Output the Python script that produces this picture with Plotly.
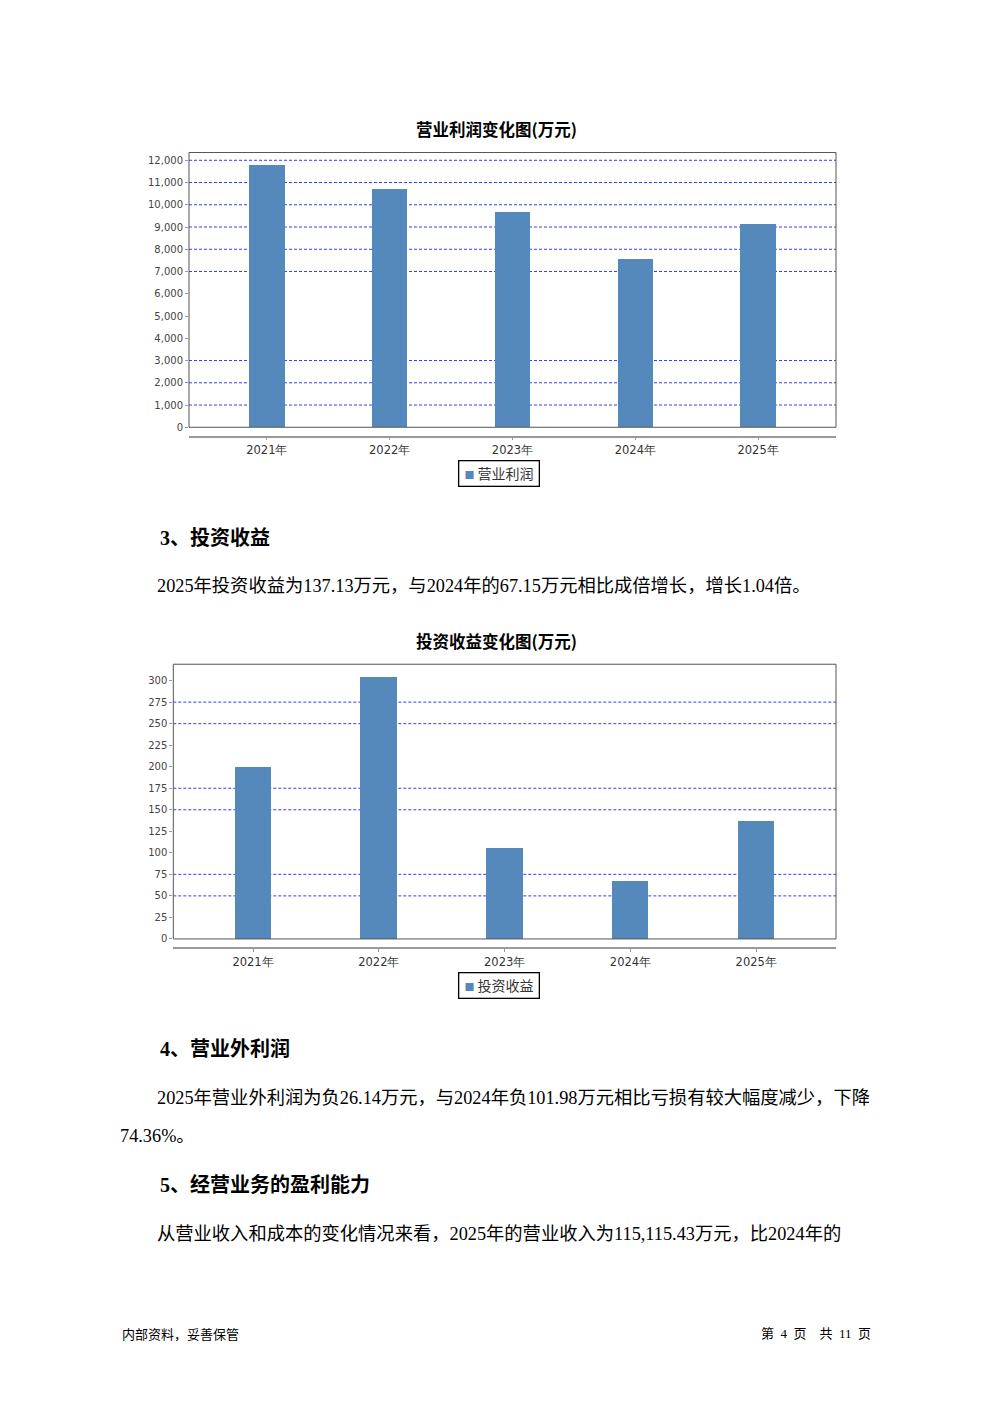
import plotly.graph_objects as go

W, H = 992, 1403
YK = 1.0035  # small vertical calibration

def px(x):
    return x / W

def py(y):
    return 1 - y * YK / H

# ---- data ----
years = ["2021年", "2022年", "2023年", "2024年", "2025年"]
op_profit = [11744, 10665, 9663, 7551, 9092]          # 营业利润 (万元)
inv_income = [199.8, 304.3, 105.7, 67.15, 137.13]     # 投资收益 (万元)
op_ticks = list(range(0, 12001, 1000))
inv_ticks = list(range(0, 301, 25))
op_grid = [1000, 2000, 3000, 7000, 8000, 9000, 10000, 11000, 12000]
inv_grid = [50, 75, 150, 175, 250, 275]

BAR = "#5588bb"
GRID = "#3a3aff"
CJK = "Noto Sans CJK SC"
BODY = "Liberation Serif, Noto Sans CJK SC"
TICKF = "DejaVu Sans"

fig = go.Figure()
fig.add_bar(x=years, y=op_profit, xaxis="x", yaxis="y", width=0.29,
            marker=dict(color=BAR, line=dict(width=0)), showlegend=False)
fig.add_bar(x=years, y=inv_income, xaxis="x2", yaxis="y2", width=0.29,
            marker=dict(color=BAR, line=dict(width=0)), showlegend=False)

xcommon = dict(type="category", range=[-0.634, 4.634], showgrid=False,
               showline=True, linecolor="#999999", linewidth=1.5,
               ticks="outside", ticklen=3, tickcolor="#999999",
               tickfont=dict(family=TICKF, size=11.5, color="#333333"),
               anchor="free", fixedrange=True)
ycommon = dict(showgrid=False, zeroline=False, showline=False,
               ticks="outside", ticklen=3, tickcolor="#999999",
               tickfont=dict(family=TICKF, size=10, color="#444444"),
               fixedrange=True)

fig.update_layout(
    width=W, height=H, margin=dict(l=0, r=0, t=0, b=0),
    paper_bgcolor="white", plot_bgcolor="white",
    bargap=0,
    xaxis=dict(domain=[px(189), px(836)], position=py(436.7), **xcommon),
    yaxis=dict(domain=[py(427.3), py(152.5)], anchor="x", range=[0, 12350],
               tickvals=op_ticks, tickformat=",", **ycommon),
    xaxis2=dict(domain=[px(173.3), px(836)], position=py(948.3), **xcommon),
    yaxis2=dict(domain=[py(939), py(664.3)], anchor="x2", range=[0, 319],
                tickvals=inv_ticks, **ycommon),
)

shapes = []
for v in op_grid:
    shapes.append(dict(type="line", xref="x domain", yref="y", x0=0, x1=1, y0=v, y1=v,
                       line=dict(color=GRID, width=1, dash="3px,2px"), layer="below"))
for v in inv_grid:
    shapes.append(dict(type="line", xref="x2 domain", yref="y2", x0=0, x1=1, y0=v, y1=v,
                       line=dict(color=GRID, width=1, dash="3px,2px"), layer="below"))
for xr, yr in (("x domain", "y domain"), ("x2 domain", "y2 domain")):
    shapes.append(dict(type="rect", xref=xr, yref=yr, x0=0, x1=1, y0=0, y1=1,
                       line=dict(color="#555555", width=1), layer="above"))
fig.update_layout(shapes=shapes)

ann = []

def text(x, y, s, size, family=BODY, bold=False, xanchor="left", color="#000000"):
    if bold:
        s = "<b>" + s + "</b>"
    ann.append(dict(x=px(x), y=py(y), xref="paper", yref="paper", text=s, showarrow=False,
                    xanchor=xanchor, yanchor="middle",
                    font=dict(family=family, size=size, color=color)))

# chart titles
text(496, 129, "营业利润变化图(万元)", 16.5, family=CJK, bold=True, xanchor="center")
text(496, 641, "投资收益变化图(万元)", 16.5, family=CJK, bold=True, xanchor="center")

# legends
for y, name in ((474, "营业利润"), (986, "投资收益")):
    ann.append(dict(x=px(498.7), y=py(y), xref="paper", yref="paper",
                    text='&nbsp;<span style="color:%s;font-size:10px">■</span> %s&nbsp;' % (BAR, name),
                    showarrow=False, xanchor="center", yanchor="middle",
                    bordercolor="#000000", borderwidth=1.3, borderpad=2, bgcolor="white",
                    font=dict(family=CJK, size=14, color="#333333")))

# headings and body text
text(158, 538, "3、投资收益", 20, bold=True)
text(155, 586, "2025年投资收益为137.13万元，与2024年的67.15万元相比成倍增长，增长1.04倍。", 18.3)
text(158, 1049, "4、营业外利润", 20, bold=True)
text(155, 1098, "2025年营业外利润为负26.14万元，与2024年负101.98万元相比亏损有较大幅度减少，下降", 18.3)
text(118, 1136, "74.36%。", 18.3)
text(158, 1185, "5、经营业务的盈利能力", 20, bold=True)
text(155, 1234, "从营业收入和成本的变化情况来看，2025年的营业收入为115,115.43万元，比2024年的", 18.3)

# footer
text(119.5, 1334, "内部资料，妥善保管", 13, family=CJK)
text(873, 1334, "第  4  页    共  11  页", 13, family=BODY, xanchor="right")

fig.update_layout(annotations=ann)

post = ("document.documentElement.style.margin='0';document.body.style.margin='0';"
        "document.documentElement.style.overflow='hidden';document.body.style.overflow='hidden';")
fig.write_html("out.html", post_script=post, config={"displayModeBar": False})
